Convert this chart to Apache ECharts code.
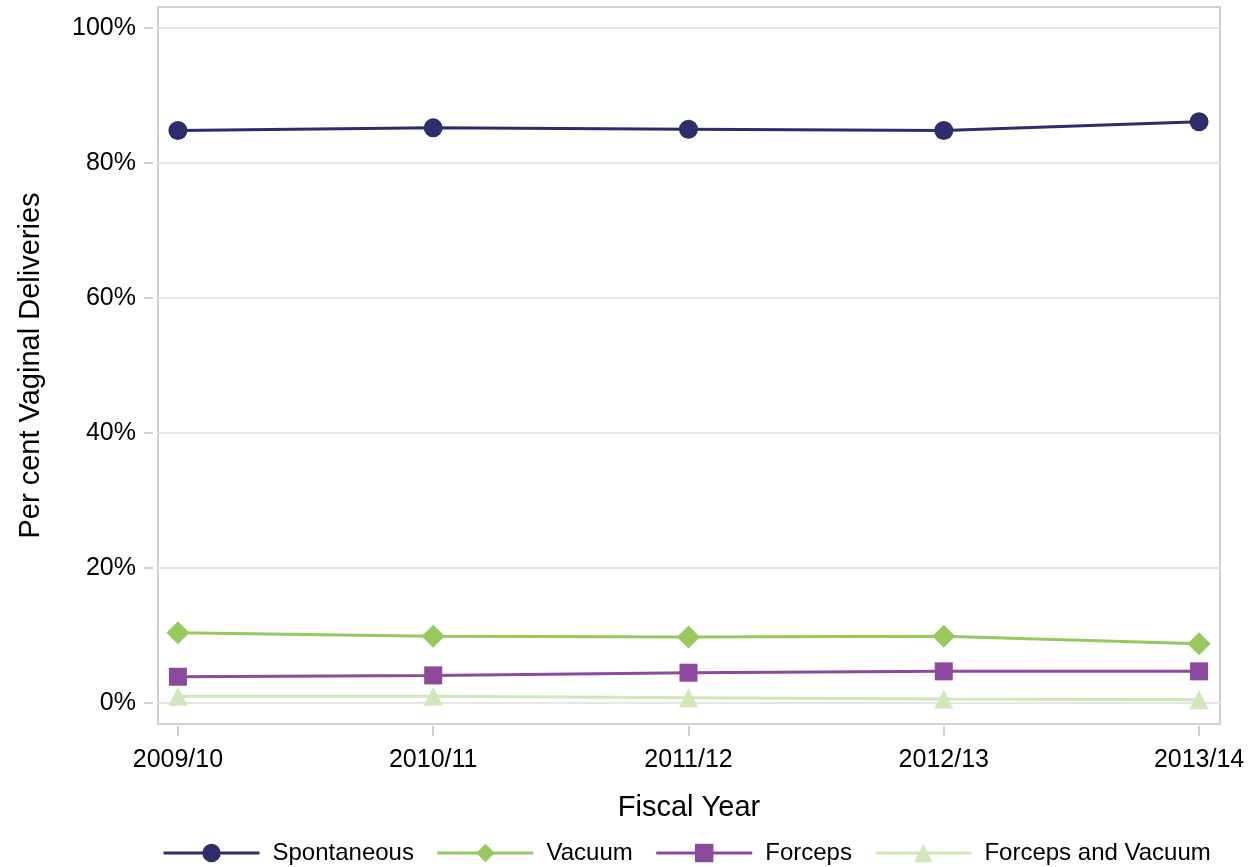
<!DOCTYPE html>
<html>
<head>
<meta charset="utf-8">
<script src="https://cdn.jsdelivr.net/npm/echarts@6/dist/echarts.min.js"></script>
<style>html,body{margin:0;padding:0;background:#fff;}#c{width:1256px;height:867px;}</style>
</head>
<body>
<div id="c"></div>
<script>
const categories = ['2009/10', '2010/11', '2011/12', '2012/13', '2013/14'];
const spontaneous = [84.8, 85.2, 85.0, 84.8, 86.1];
const vacuum = [10.4, 9.9, 9.8, 9.9, 8.8];
const forceps = [3.9, 4.1, 4.5, 4.7, 4.7];
const forcepsVacuum = [1.0, 1.0, 0.8, 0.6, 0.5];
const yTicks = [0, 20, 40, 60, 80, 100];
const xTicks = [0, 1, 2, 3, 4];

const FONT = '"Liberation Sans", Arial, sans-serif';
const chart = echarts.init(document.getElementById('c'), null, {renderer: 'canvas'});

function pts(arr) { return arr.map((v, i) => [i, v]); }

function mkSeries(name, data, color, symbol, size) {
  return {
    name: name, type: 'line', data: pts(data),
    symbol: symbol, symbolSize: size, showSymbol: true,
    lineStyle: {color: color, width: 3},
    itemStyle: {color: color},
    emphasis: {disabled: true},
    animation: false
  };
}

chart.setOption({
  animation: false,
  grid: {left: 158, right: 36, top: 7, bottom: 143, show: true, borderColor: '#d0d0d0', borderWidth: 2, backgroundColor: 'transparent'},
  xAxis: {
    type: 'value', min: -0.078, max: 4.082,
    offset: 2,
    name: 'Fiscal Year', nameLocation: 'middle', nameGap: 67,
    nameTextStyle: {fontFamily: FONT, fontSize: 29, color: '#000'},
    axisLine: {show: false, onZero: false},
    axisTick: {show: true, length: 10, customValues: xTicks, lineStyle: {color: '#d0d0d0', width: 2}},
    axisLabel: {customValues: xTicks, margin: 22, fontFamily: FONT, fontSize: 25, color: '#000',
      formatter: v => categories[Math.round(v)] || ''},
    splitLine: {show: false}
  },
  yAxis: {
    type: 'value', min: -3.1, max: 103.1,
    offset: 5,
    name: 'Per cent Vaginal Deliveries', nameLocation: 'middle', nameGap: 108,
    nameTextStyle: {fontFamily: FONT, fontSize: 29, color: '#000'},
    axisLine: {show: false, onZero: false},
    axisTick: {show: true, length: 9, customValues: yTicks, lineStyle: {color: '#d0d0d0', width: 2}},
    axisLabel: {customValues: yTicks, margin: 17, fontFamily: FONT, fontSize: 25, color: '#000',
      formatter: v => v + '%'},
    splitLine: {show: true, lineStyle: {color: '#e6e6e6', width: 2}}
  },
  legend: {
    left: 157, top: 836,
    itemWidth: 96, itemHeight: 23, itemGap: 22,
    lineStyle: {width: 3},
    textStyle: {fontFamily: FONT, fontSize: 24, color: '#000', padding: [0, 0, 0, 8]},
    data: ['Spontaneous', 'Vacuum', 'Forceps', 'Forceps and Vacuum']
  },
  series: [
    mkSeries('Spontaneous', spontaneous, '#2d2d6b', 'circle', 19),
    mkSeries('Vacuum', vacuum, '#96ca5f', 'diamond', 23),
    mkSeries('Forceps', forceps, '#8b4a9b', 'rect', 18),
    mkSeries('Forceps and Vacuum', forcepsVacuum, '#d1e7b9', 'triangle', 19)
  ]
});
</script>
</body>
</html>
